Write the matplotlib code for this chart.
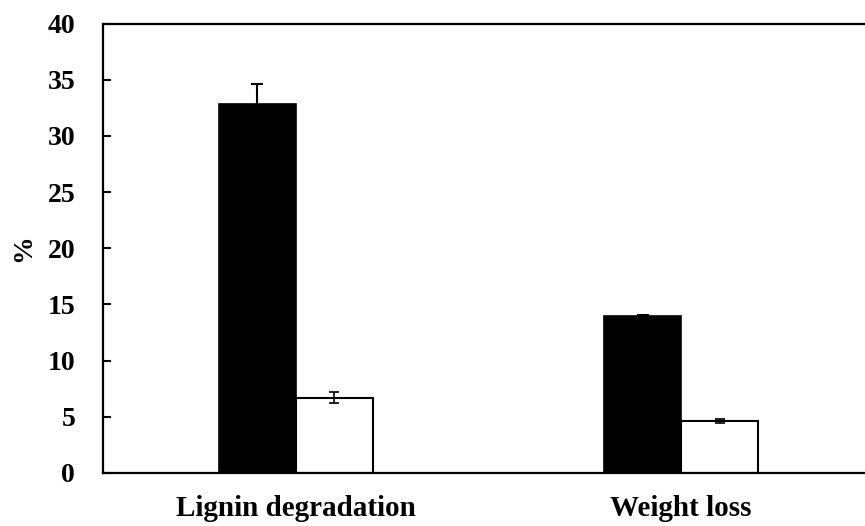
import matplotlib
matplotlib.use("Agg")
import matplotlib.pyplot as plt
import numpy as np

categories = ["Lignin degradation", "Weight loss"]
black_vals = [32.8, 13.95]
black_err = [1.8, 0.15]
white_vals = [6.7, 4.63]
white_err = [0.5, 0.15]
yticks = [0, 5, 10, 15, 20, 25, 30, 35, 40]

plt.rcParams['font.family'] = ['Liberation Serif', 'DejaVu Serif']
plt.rcParams['font.weight'] = 'bold'

fig = plt.figure(figsize=(8.65, 5.26), dpi=100)
ax = fig.add_axes([103/865, 1 - 473/526, 771/865, (473 - 23.5)/526])

x = np.arange(len(categories))
w = 0.2
ax.bar(x - w/2, black_vals, w, color='black', edgecolor='black', linewidth=1.2, zorder=2)
ax.bar(x + w/2, white_vals, w, color='white', edgecolor='black', linewidth=1.5, zorder=2)
ax.errorbar(x - w/2, black_vals, yerr=black_err, fmt='none', ecolor='black',
            elinewidth=1.5, capsize=4.5, capthick=1.5, zorder=3)
ax.errorbar(x + w/2, white_vals, yerr=white_err, fmt='none', ecolor='black',
            elinewidth=1.2, capsize=3.5, capthick=1.2, zorder=3)

ax.set_xlim(-0.5, 1.5)
ax.set_ylim(0, 40)
ax.set_yticks(yticks)
ax.set_xticks(x)
ax.set_xticklabels(categories, fontsize=21, fontweight='bold')
ax.set_yticklabels([str(t) for t in yticks], fontsize=20, fontweight='bold')
ax.tick_params(axis='y', direction='in', length=6, width=1.5, pad=20)
ax.tick_params(axis='x', length=0, pad=16)
ax.set_ylabel('%', fontsize=20, fontweight='bold', labelpad=8)

for s in ['left', 'bottom', 'top']:
    ax.spines[s].set_linewidth(1.6)
ax.spines['right'].set_visible(False)

fig.savefig('out.png', dpi=100)
